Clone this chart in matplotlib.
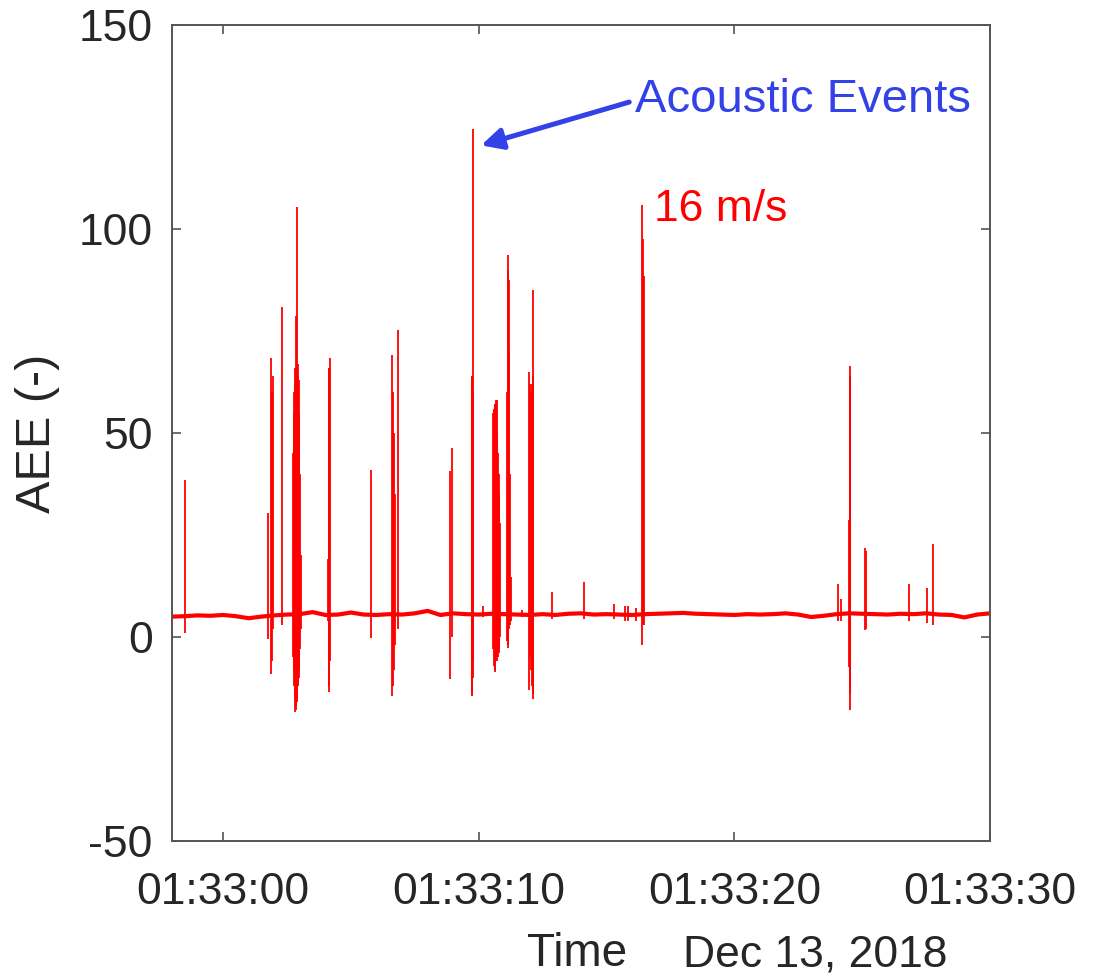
import numpy as np
import matplotlib
matplotlib.use("Agg")
import matplotlib.pyplot as plt

plt.rcParams['font.family'] = ['Liberation Sans', 'DejaVu Sans']

# seconds relative to 01:33:00, Dec 13 2018
base_t = [-2.0, -1.5, -1.0, -0.5, 0.0, 0.5, 1.0, 1.5, 2.0, 2.5,
          3.0, 3.5, 4.0, 4.5, 5.0, 5.5, 6.0, 6.5, 7.0, 7.5,
          8.0, 8.5, 9.0, 9.5, 10.0, 10.5, 11.0, 11.5, 12.0, 12.5,
          13.0, 13.5, 14.0, 14.5, 15.0, 15.5, 16.0, 16.5, 17.0, 17.5,
          18.0, 18.5, 19.0, 19.5, 20.0, 20.5, 21.0, 21.5, 22.0, 22.5,
          23.0, 23.5, 24.0, 24.5, 25.0, 25.5, 26.0, 26.5, 27.0, 27.5,
          28.0, 28.5, 29.0, 29.5, 30.0]
base_v = [5.0, 5.1, 5.3, 5.2, 5.4, 5.1, 4.6, 5.0, 5.3, 5.5,
          5.6, 6.1, 5.4, 5.5, 6.0, 5.5, 5.4, 5.6, 5.5, 5.8,
          6.4, 5.4, 5.8, 5.6, 5.5, 5.7, 5.6, 5.5, 5.4, 5.6,
          5.4, 5.7, 5.8, 5.5, 5.6, 5.5, 5.4, 5.6, 5.7, 5.8,
          5.9, 5.7, 5.6, 5.5, 5.4, 5.6, 5.5, 5.6, 5.8, 5.5,
          4.9, 5.2, 5.6, 5.8, 5.7, 5.6, 5.5, 5.7, 5.6, 5.8,
          5.5, 5.4, 4.8, 5.5, 5.8]

# acoustic event spikes: time, max, min
spike_t = [-1.48, 1.74, 1.88, 1.90, 1.96, 2.29,
           2.74, 2.76, 2.78, 2.80, 2.82, 2.84, 2.86, 2.88, 2.89, 2.90,
           2.92, 2.94, 2.96, 2.98, 3.00, 3.03,
           4.10, 4.14, 4.15, 4.17, 5.77,
           6.62, 6.64, 6.66, 6.68, 6.72, 6.86,
           8.89, 8.95, 9.74, 9.75, 9.76, 9.77, 10.18,
           10.57, 10.60, 10.63, 10.65, 10.68, 10.70, 10.73, 10.75, 10.78, 10.80, 10.83,
           11.12, 11.15, 11.16, 11.18, 11.20, 11.22, 11.27, 11.70,
           11.97, 12.00, 12.04, 12.08, 12.11, 12.14,
           12.85, 14.11, 15.28, 15.71, 15.84, 16.17,
           16.39, 16.42, 16.43, 16.44, 16.45,
           24.05, 24.16, 24.50, 24.51, 24.52, 24.53,
           25.12, 25.15, 26.82, 27.55, 27.76]
spike_hi = [38.5, 30.5, 68.5, 60.0, 64.0, 81.0,
            45.0, 55.0, 60.0, 62.0, 66.0, 66.0, 78.6, 66.0, 105.5, 65.0,
            67.0, 64.0, 63.0, 55.0, 40.0, 20.0,
            19.0, 66.0, 66.0, 68.5, 41.0,
            69.0, 60.0, 50.0, 50.0, 35.0, 75.3,
            40.6, 46.3, 64.0, 64.0, 124.4, 60.0, 7.6,
            55.0, 56.0, 57.0, 57.0, 58.0, 58.0, 50.0, 45.0, 40.0, 35.0, 28.0,
            60.0, 93.6, 90.0, 87.6, 70.0, 40.0, 14.8, 6.6,
            65.0, 62.0, 60.0, 62.0, 64.0, 85.0,
            11.0, 13.6, 8.0, 7.7, 7.7, 7.0,
            106.0, 97.5, 88.0, 86.0, 88.4,
            13.0, 9.3, 28.7, 60.0, 64.0, 66.3,
            21.8, 21.0, 13.0, 12.0, 22.7]
spike_lo = [1.0, -0.5, -9.0, -6.0, 2.0, 3.0,
            -5.0, -8.0, -12.0, -15.0, -18.5, -18.0, -17.0, -16.0, -15.0, -14.0,
            -12.0, -12.0, -10.0, -8.0, -3.0, 2.0,
            4.0, -13.5, -12.0, -6.0, -0.3,
            -14.4, -12.0, 2.0, -8.0, -2.0, 2.0,
            -10.3, 0.0, -14.4, -14.0, -6.0, -10.0, 5.0,
            -3.0, -7.0, -8.5, -8.0, -6.0, -6.0, -4.8, -5.0, -4.0, -3.0, 0.0,
            -1.0, -2.6, -2.0, 3.0, 2.0, 3.0, 4.0, 5.0,
            -13.0, -5.0, -8.0, -12.0, -14.0, -15.2,
            4.5, 4.5, 4.5, 4.0, 4.0, 4.0,
            -2.0, 3.0, 3.0, 3.0, 3.0,
            3.8, 4.0, -7.3, -10.0, -14.0, -17.9,
            1.7, 2.0, 4.0, 3.4, 3.0]

xtick_pos = [0, 10, 20, 30]
xtick_lab = ['01:33:00', '01:33:10', '01:33:20', '01:33:30']
ytick_pos = [-50, 0, 50, 100, 150]
ytick_lab = ['-50', '0', '50', '100', '150']

red = '#ff0000'
blue = '#3341e8'
grey = '#262626'

fig = plt.figure(figsize=(11.04, 9.76), dpi=100)
ax = fig.add_axes([172 / 1104, 1 - 841 / 976, 818 / 1104, 816 / 976])

ax.plot(base_t, base_v, color=red, lw=3.0, solid_joinstyle='round')
ax.vlines(spike_t, spike_lo, spike_hi, color=red, lw=1.3)

ax.set_xlim(-2, 30)
ax.set_ylim(-50, 150)
ax.set_xticks(xtick_pos)
ax.set_xticklabels(xtick_lab)
ax.set_yticks(ytick_pos)
ax.set_yticklabels(ytick_lab)
ax.tick_params(direction='in', length=6.5, width=1.1, color='#444444',
               labelsize=32, labelcolor=grey, top=True, right=True)
ax.tick_params(axis='x', pad=22)
ax.tick_params(axis='y', pad=14)
for sp in ax.spines.values():
    sp.set_color('#555555')
    sp.set_linewidth(1.4)

ax.annotate('Acoustic Events', xy=(10.09, 120.5), xytext=(16.1, 131.5),
            color=blue, fontsize=34, ha='left', va='center',
            arrowprops=dict(arrowstyle='-|>', color=blue, lw=3.6, relpos=(0, 0.5),
                            mutation_scale=32, shrinkA=2, shrinkB=0))
ax.text(16.84, 101.9, '16 m/s', color=red, fontsize=32, ha='left', va='baseline')

fig.text(37 / 1104, 1 - 433 / 976, 'AEE (-)', rotation=90, ha='center', va='center',
         fontsize=35, color=grey)
fig.text(527 / 1104, 1 - 966 / 976, 'Time', ha='left', va='baseline',
         fontsize=33, color=grey)
fig.text(683 / 1104, 1 - 966 / 976, 'Dec 13, 2018', ha='left', va='baseline',
         fontsize=32, color=grey)

fig.savefig('out.png', dpi=100)
